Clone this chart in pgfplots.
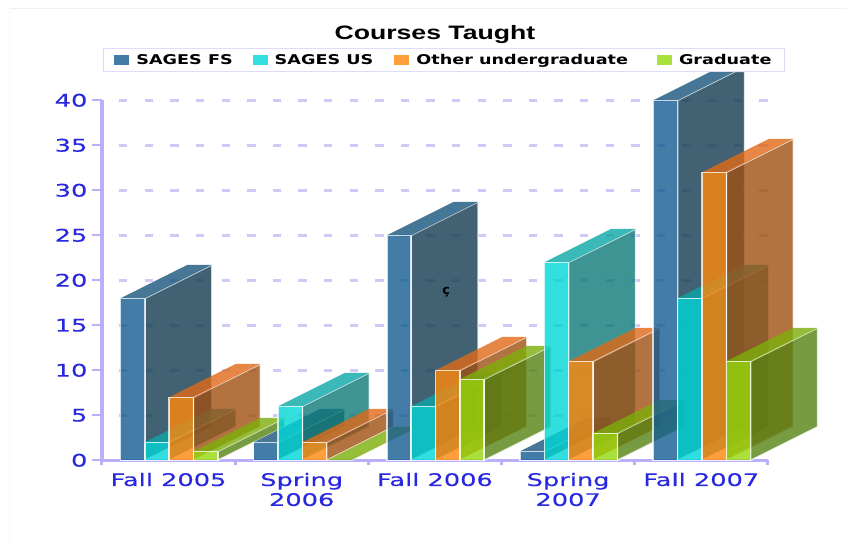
\documentclass[border=0pt]{standalone}
\usepackage{pgfplots}
\pgfplotsset{compat=1.18}
\usepackage{fontspec}
\setmainfont{DejaVu Sans}
\newfontfamily\widefont[FakeStretch=1.48,FakeBold=0.25]{DejaVu Sans}
\newfontfamily\legfont[FakeStretch=1.31]{DejaVu Sans}
\newfontfamily\titlefont[FakeStretch=1.37]{Liberation Sans}
\definecolor{lav}{RGB}{186,176,250}
\definecolor{gridc}{RGB}{208,200,245}
\definecolor{tickc}{RGB}{40,40,225}
\definecolor{fr0}{RGB}{19,92,146}\definecolor{si0}{RGB}{19,59,80}\definecolor{to0}{RGB}{24,86,124}
\definecolor{fr1}{RGB}{0,214,214}\definecolor{si1}{RGB}{14,121,121}\definecolor{to1}{RGB}{11,167,167}
\definecolor{fr2}{RGB}{255,136,11}\definecolor{si2}{RGB}{161,80,17}\definecolor{to2}{RGB}{224,105,24}
\definecolor{fr3}{RGB}{149,217,11}\definecolor{si3}{RGB}{86,130,17}\definecolor{to3}{RGB}{124,174,11}
\pgfplotsset{barface/.style={forget plot,no markers,fill opacity=0.8,draw opacity=0.75,line width=1.5bp,line join=miter}}
% \tdbar{category}{series}{value}
\newcommand\tdbar[3]{%
  \pgfmathsetmacro\xa{#1+0.139+#2*0.1828}%
  \pgfmathsetmacro\xb{\xa+0.1828}%
  \pgfmathsetmacro\xc{\xa+0.503}%
  \pgfmathsetmacro\xd{\xb+0.503}%
  \pgfmathsetmacro\yd{#3+3.72}%
  \addplot[barface,draw=white,fill=si#2] coordinates {(\xb,0)(\xb,#3)(\xd,\yd)(\xd,3.72)} --cycle;
  \addplot[barface,draw=none,fill=to#2] coordinates {(\xa,#3)(\xb,#3)(\xd,\yd)(\xc,\yd)} --cycle;
  \addplot[barface,draw=white,fill=fr#2] coordinates {(\xa,0)(\xb,0)(\xb,#3)(\xa,#3)} --cycle;
}
\begin{document}
\begin{tikzpicture}[x=1bp,y=1bp]
\path[use as bounding box,fill=white] (0,0) rectangle (847,544);
\draw[gray!12,line width=0.6bp] (9,536) -- (847,536);
\draw[gray!5,line width=0.6bp] (9,536) -- (9,0);
\begin{axis}[
  at={(76.5,93)},anchor=south west,scale only axis,
  width=666bp,height=360bp,
  xmin=0,xmax=5,ymin=0,ymax=40,clip=false,
  axis lines=left,
  axis line style={-,draw=lav},
  x axis line style={line width=2.6bp},
  y axis line style={line width=4bp},
  xtick={0.5,1.5,2.5,3.5,4.5},
  xticklabels={Fall 2005,{Spring\\2006},Fall 2006,{Spring\\2007},Fall 2007},
  ytick={0,5,...,40},
  tick align=outside,
  major tick length=10bp,
  xtick style={draw=none},
  ytick style={draw=lav,line width=2.4bp},
  extra x ticks={0,1,2,3,4,5},
  extra x tick labels={},
  extra x tick style={major tick length=5bp,xtick style={draw=lav,line width=3bp}},
  ymajorgrids,
  grid style={draw=gridc,line width=3bp,dash pattern=on 8.3bp off 17.3bp,dash phase=8.3bp},
  /pgf/number format/assume math mode=true,
  tick label style={text=tickc,font=\widefont\fontsize{17.4}{20}\selectfont},
  xticklabel style={align=center,yshift=1bp},
  yticklabel style={xshift=-1bp},
  legend columns=4,
  legend style={at={(0.0015,1.0)},anchor=south west,yshift=28bp,draw=lav!45,line width=1bp,
    font=\legfont\bfseries\fontsize{13.5}{15}\selectfont,
    /tikz/every odd column/.append style={column sep=5bp},
    /tikz/column 2/.style={column sep=18bp},
    /tikz/column 4/.style={column sep=19bp},
    /tikz/column 6/.style={column sep=27bp},
    inner xsep=11bp,inner ysep=4bp},
  legend image code/.code={\fill[#1,draw=none] (0,-5bp) rectangle (15bp,5bp);},
]
\addlegendimage{fill=fr0!80!white}\addlegendentry{SAGES FS}
\addlegendimage{fill=fr1!80!white}\addlegendentry{SAGES US}
\addlegendimage{fill=fr2!80!white}\addlegendentry{Other undergraduate}
\addlegendimage{fill=fr3!80!white}\addlegendentry{Graduate}
% Fall 2005
\tdbar{0}{0}{18}\tdbar{0}{1}{2}\tdbar{0}{2}{7}\tdbar{0}{3}{1}
% Spring 2006
\tdbar{1}{0}{2}\tdbar{1}{1}{6}\tdbar{1}{2}{2}\tdbar{1}{3}{0}
% Fall 2006
\tdbar{2}{0}{25}\tdbar{2}{1}{6}\tdbar{2}{2}{10}\tdbar{2}{3}{9}
% Spring 2007
\tdbar{3}{0}{1}\tdbar{3}{1}{22}\tdbar{3}{2}{11}\tdbar{3}{3}{3}
% Fall 2007: SAGES FS = 40, its back is cut at the top of the image area
\addplot[barface,draw=white,fill=si0] coordinates {(4.3218,0)(4.3218,40)(4.754,43.2)(4.8248,43.2)(4.8248,3.72)} --cycle;
\addplot[barface,draw=none,fill=to0] coordinates {(4.139,40)(4.3218,40)(4.754,43.2)(4.571,43.2)} --cycle;
\addplot[barface,draw=white,fill=fr0] coordinates {(4.139,0)(4.3218,0)(4.3218,40)(4.139,40)} --cycle;
\tdbar{4}{1}{18}\tdbar{4}{2}{32}\tdbar{4}{3}{11}
\node[font=\bfseries\fontsize{13}{14}\selectfont,text=black] at (axis cs:2.585,18.7) {ç};
\node[font=\titlefont\bfseries\fontsize{19.5}{21}\selectfont,text=black] at (axis cs:2.5,47.3) {Courses Taught};
\end{axis}
\end{tikzpicture}
\end{document}
